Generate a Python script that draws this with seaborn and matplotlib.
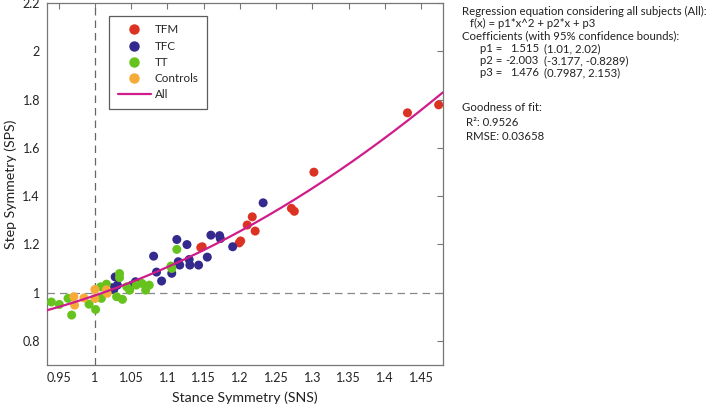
import numpy as np
import pandas as pd
import matplotlib
matplotlib.use("Agg")
import matplotlib.pyplot as plt
from matplotlib.lines import Line2D
import seaborn as sns

# ---- data ----
tfm_x = [1.146, 1.148, 1.199, 1.201, 1.210, 1.217, 1.221, 1.271, 1.275, 1.302, 1.431, 1.474]
tfm_y = [1.187, 1.190, 1.206, 1.214, 1.280, 1.314, 1.255, 1.349, 1.337, 1.499, 1.745, 1.778]

tfc_x = [1.026, 1.028, 1.031, 1.024, 1.051, 1.056, 1.081, 1.085, 1.092, 1.106, 1.113,
         1.127, 1.115, 1.117, 1.130, 1.131, 1.143, 1.155, 1.160, 1.172, 1.173, 1.190, 1.232]
tfc_y = [1.013, 1.065, 1.031, 1.020, 1.031, 1.045, 1.151, 1.085, 1.048, 1.080, 1.220,
         1.199, 1.128, 1.114, 1.137, 1.114, 1.114, 1.147, 1.238, 1.236, 1.224, 1.190, 1.372]

tt_x = [0.940, 0.951, 0.963, 0.968, 0.992, 1.001, 1.009, 1.008, 1.016, 1.034, 1.034,
        1.030, 1.038, 1.044, 1.048, 1.057, 1.065, 1.070, 1.075, 1.105, 1.106, 1.113]
tt_y = [0.961, 0.951, 0.976, 0.907, 0.952, 0.930, 0.976, 1.024, 1.035, 1.079, 1.062,
        0.983, 0.972, 1.024, 1.010, 1.031, 1.038, 1.010, 1.031, 1.110, 1.100, 1.179]

ctl_x = [0.971, 0.972, 0.985, 1.000, 1.000, 1.016, 1.017]
ctl_y = [0.983, 0.948, 0.978, 1.013, 0.976, 1.012, 0.997]

groups = ["TFM", "TFC", "TT", "Controls"]
colors = ["#DC3223", "#342A8E", "#66C31E", "#F6AA38"]
fit_color = "#D01C8B"

# fitted quadratic (coefficients shown in the figure)
p1, p2, p3 = 1.515, -2.003, 1.476

xticks = [0.95, 1.0, 1.05, 1.1, 1.15, 1.2, 1.25, 1.3, 1.35, 1.4, 1.45]
xticklabels = ["0.95", "1", "1.05", "1.1", "1.15", "1.2", "1.25", "1.3", "1.35", "1.4", "1.45"]
yticks = [0.8, 1.0, 1.2, 1.4, 1.6, 1.8, 2.0, 2.2]
yticklabels = ["0.8", "1", "1.2", "1.4", "1.6", "1.8", "2", "2.2"]

info_lines = [
    ("Regression equation considering all subjects (All):", 462.5, 11),
    ("f(x) = p1*x^2 + p2*x + p3", 470, 23.5),
    ("Coefficients (with 95% confidence bounds):", 462.5, 36),
    ("Goodness of fit:", 462.5, 107.5),
    ("R\u00b2: 0.9526", 466.5, 122.5),
    ("RMSE: 0.03658", 466.5, 136.5),
]
coef_names = ["p1 =", "p2 =", "p3 ="]
coef_vals = ["1.515", "-2.003", "1.476"]
coef_bounds = ["(1.01, 2.02)", "(-3.177, -0.8289)", "(0.7987, 2.153)"]
coef_rows_y = [49, 61, 73]

# ---- build table ----
df = pd.concat([
    pd.DataFrame({"SNS": tfm_x, "SPS": tfm_y, "group": "TFM"}),
    pd.DataFrame({"SNS": tfc_x, "SPS": tfc_y, "group": "TFC"}),
    pd.DataFrame({"SNS": tt_x, "SPS": tt_y, "group": "TT"}),
    pd.DataFrame({"SNS": ctl_x, "SPS": ctl_y, "group": "Controls"}),
], ignore_index=True)

sns.set_theme(style="white")
plt.rcParams["font.family"] = ["Lato", "DejaVu Sans"]

W, H = 709, 407
fig = plt.figure(figsize=(W / 100, H / 100), dpi=100)
ax = fig.add_axes([47 / W, 1 - 365 / H, (443 - 47) / W, (365 - 3) / H])

xlim = (0.934, 1.48)
ylim = (0.70, 2.2)
ax.set_xlim(*xlim)
ax.set_ylim(*ylim)

# reference dashed lines
ax.axvline(1.0, color="#666666", lw=0.9, ls=(0, (6, 4)), zorder=1)
ax.axhline(1.0, color="#888888", lw=0.9, ls=(0, (6, 4)), zorder=1)

pal = dict(zip(groups, colors))
sns.scatterplot(data=df, x="SNS", y="SPS", hue="group", hue_order=groups,
                palette=pal, s=42, linewidth=0, legend=False, ax=ax, zorder=3)

xs = np.linspace(xlim[0], xlim[1], 200)
fit = pd.DataFrame({"SNS": xs, "SPS": np.polyval([p1, p2, p3], xs)})
sns.lineplot(data=fit, x="SNS", y="SPS", color=fit_color, lw=1.6, ax=ax, zorder=4)

ax.set_xticks(xticks)
ax.set_xticklabels(xticklabels)
ax.set_yticks(yticks)
ax.set_yticklabels(yticklabels)
ax.tick_params(direction="in", top=True, right=True, length=4, width=0.8,
               color="#777777", labelsize=9, labelcolor="#222222", pad=5)
for sp in ax.spines.values():
    sp.set_color("#777777")
    sp.set_linewidth(0.9)

ax.set_xlabel("Stance Symmetry (SNS)", fontsize=10.2, color="#222222")
ax.set_ylabel("Step Symmetry (SPS)", fontsize=10.2, color="#222222")
ax.xaxis.set_label_coords(0.5, -0.072)
ax.yaxis.set_label_coords(-0.075, 0.5)

handles = [Line2D([], [], marker="o", ls="none", color=c, markersize=6.5) for c in colors]
handles.append(Line2D([], [], color=fit_color, lw=1.6))
leg = ax.legend(handles, groups + ["All"], loc="upper left",
                bbox_to_anchor=(0.157, 0.965), frameon=True, fancybox=False,
                fontsize=8.4, handlelength=2.8, handletextpad=0.35,
                labelspacing=0.45, borderpad=0.75, borderaxespad=0)
leg.get_frame().set_edgecolor("#333333")
leg.get_frame().set_linewidth(0.9)

fs_info = 8.2
for txt, px, py in info_lines:
    fig.text(px / W, 1 - py / H, txt, fontsize=fs_info, va="center", ha="left", color="#222222")
for name, val, bnd, py in zip(coef_names, coef_vals, coef_bounds, coef_rows_y):
    fig.text(480 / W, 1 - py / H, name, fontsize=fs_info, va="center", ha="left", color="#222222")
    fig.text(539 / W, 1 - py / H, val, fontsize=fs_info, va="center", ha="right", color="#222222")
    fig.text(543.5 / W, 1 - py / H, bnd, fontsize=fs_info, va="center", ha="left", color="#222222")

fig.savefig("out.png", dpi=100)
